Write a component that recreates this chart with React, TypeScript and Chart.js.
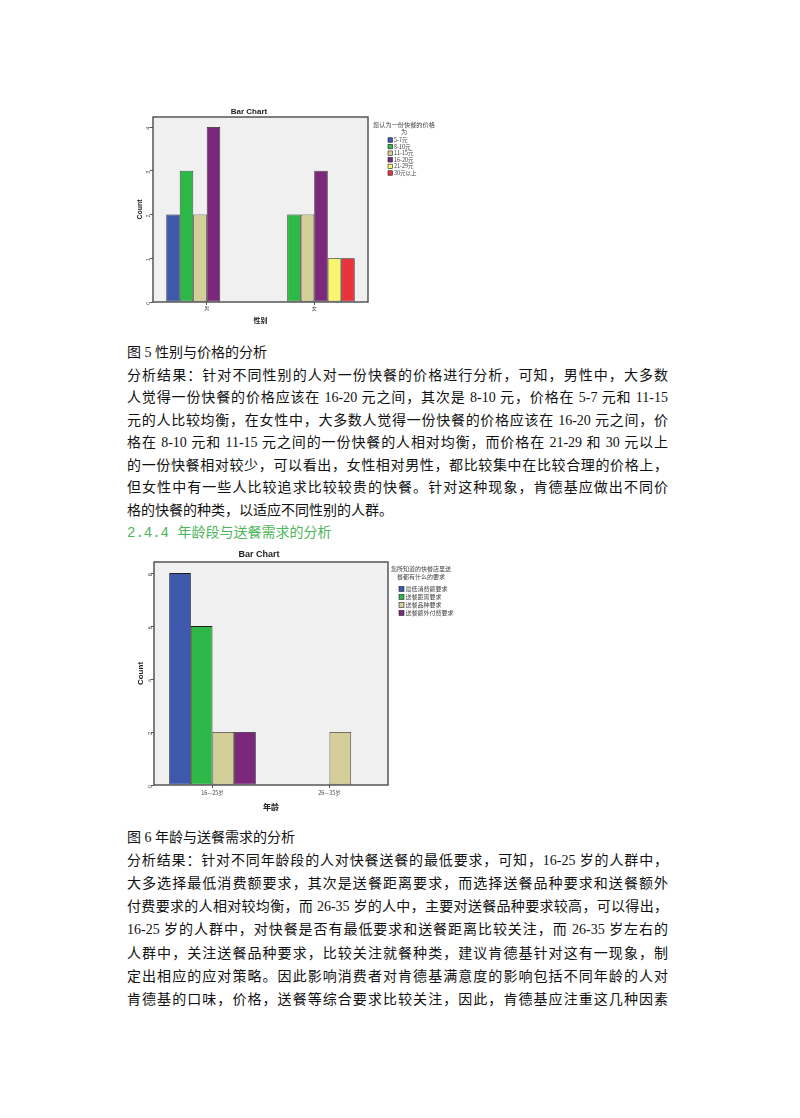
import React, { useEffect, useRef } from "react"
import { Chart, registerables } from "chart.js"

Chart.register(...registerables)

// 图5 性别与价格
const genderLabels = ["男", "女"]
const priceNames = ["5-7元", "8-10元", "11-15元", "16-20元", "21-29元", "30元以上"]
const price57 = [2, 0]
const price810 = [3, 2]
const price1115 = [2, 2]
const price1620 = [4, 3]
const price2129 = [0, 1]
const price30 = [0, 1]
const priceColors = ["#3e58ac", "#2eb848", "#d4cf98", "#7b287c", "#faf56e", "#e8323c"]
const priceLegendTitle = ["您认为一份快餐的价格", "为"]

// 图6 年龄与送餐需求
const ageLabels = ["16—25岁", "26—35岁"]
const needNames = ["最低消费额要求", "送餐距离要求", "送餐品种要求", "送餐额外付费要求"]
const needMinSpend = [8, 0]
const needDistance = [6, 0]
const needVariety = [2, 2]
const needExtraFee = [2, 0]
const needColors = ["#3e58ac", "#2eb848", "#d4cf98", "#7b287c"]
const needLegendTitle = ["您所知道的快餐店里送", "餐都有什么的要求"]

const SANS = '"Liberation Sans", Arial, sans-serif'
const CJK = '"Noto Sans CJK SC", sans-serif'

const spssPlugin = {
  id: "spss",
  beforeDraw(chart: any) {
    const { ctx, chartArea: a } = chart
    ctx.save()
    ctx.fillStyle = "#f0f0f0"
    ctx.fillRect(a.left, a.top, a.right - a.left, a.bottom - a.top)
    ctx.restore()
  },
  afterDraw(chart: any, _args: any, opts: any) {
    const { ctx, chartArea: a } = chart
    ctx.save()
    // 枠
    ctx.strokeStyle = "#4a4a4a"
    ctx.lineWidth = 1.4
    ctx.strokeRect(a.left, a.top, a.right - a.left, a.bottom - a.top)

    // 凡例
    const lg = opts.legend
    if (lg) {
      ctx.textBaseline = "middle"
      ctx.fillStyle = "#444"
      ctx.textAlign = "center"
      ctx.font = `${lg.titleSize}px ${CJK}`
      lg.title.forEach((t: string, i: number) => {
        ctx.fillText(t, lg.titleX, lg.titleY + i * lg.titleStep)
      })
      ctx.textAlign = "left"
      ctx.font = `${lg.itemSize}px ${CJK}`
      chart.data.datasets.forEach((ds: any, i: number) => {
        const y = lg.itemY + i * lg.itemStep
        ctx.fillStyle = ds.backgroundColor
        ctx.fillRect(lg.boxX, y - lg.box / 2, lg.box, lg.box)
        ctx.strokeStyle = "#222"
        ctx.lineWidth = 0.6
        ctx.strokeRect(lg.boxX, y - lg.box / 2, lg.box, lg.box)
        ctx.fillStyle = "#444"
        ctx.fillText(ds.label, lg.boxX + lg.box + 1.5, y)
      })
    }
    ctx.restore()
  },
}

interface PanelProps {
  left: number
  top: number
  width: number
  height: number
  labels: string[]
  names: string[]
  series: number[][]
  colors: string[]
  yMax: number
  step: number
  xTitle: string
  cat: number
  yWidth: number
  xHeight: number
  padRight: number
  titleSize: number
  titlePad: { top: number; bottom: number }
  tickSize: number
  axisTitleSize: number
  xTitlePad: number
  yTitlePad: number
  xTickPad: number
  legend: any
}

const BarPanel: React.FC<PanelProps> = (p) => {
  const canvasRef = useRef<HTMLCanvasElement>(null)
  const chartRef = useRef<Chart | null>(null)

  useEffect(() => {
    if (!canvasRef.current) return
    if (chartRef.current) chartRef.current.destroy()

    chartRef.current = new Chart(canvasRef.current, {
      type: "bar",
      data: {
        labels: p.labels,
        datasets: p.names.map((name, i) => ({
          label: name,
          data: p.series[i],
          backgroundColor: p.colors[i],
          borderColor: "#1e1e1e",
          borderWidth: 0.8,
          borderSkipped: false,
          categoryPercentage: p.cat,
          barPercentage: 1,
        })),
      },
      options: {
        responsive: false,
        animation: false,
        layout: { padding: { left: 0, right: p.padRight, top: 0, bottom: 0 } },
        scales: {
          x: {
            grid: { drawOnChartArea: false, drawTicks: true, tickLength: 3, color: "#555", offset: false },
            border: { display: false },
            ticks: { color: "#444", font: { size: p.tickSize, family: CJK }, padding: p.xTickPad, maxRotation: 0 },
            title: {
              display: true,
              text: p.xTitle,
              color: "#222",
              font: { size: p.axisTitleSize, weight: "bold", family: CJK },
              padding: { top: 0, bottom: p.xTitlePad },
            },
            afterFit: (scale: any) => {
              scale.height = p.xHeight
            },
          },
          y: {
            min: 0,
            max: p.yMax,
            grid: { drawOnChartArea: false, drawTicks: true, tickLength: 3, color: "#555" },
            border: { display: false },
            ticks: {
              stepSize: p.step,
              includeBounds: false,
              color: "#444",
              font: { size: p.tickSize, family: SANS },
              padding: 1,
              minRotation: 90,
              maxRotation: 90,
            },
            title: {
              display: true,
              text: "Count",
              color: "#222",
              font: { size: p.axisTitleSize, weight: "bold", family: SANS },
              padding: { top: p.yTitlePad, bottom: 0 },
            },
            afterFit: (scale: any) => {
              scale.width = p.yWidth
            },
          },
        },
        plugins: {
          legend: { display: false },
          tooltip: { enabled: false },
          title: {
            display: true,
            text: "Bar Chart",
            color: "#222",
            font: { size: p.titleSize, weight: "bold", family: SANS },
            padding: p.titlePad,
          },
          spss: { legend: p.legend },
        } as any,
      },
      plugins: [spssPlugin],
    })

    return () => {
      if (chartRef.current) {
        chartRef.current.destroy()
        chartRef.current = null
      }
    }
  }, [])

  return (
    <div style={{ position: "absolute", left: p.left, top: p.top, width: p.width, height: p.height }}>
      <canvas ref={canvasRef} width={p.width} height={p.height} style={{ width: p.width, height: p.height }} />
    </div>
  )
}

const TEXT_FONT = '"Liberation Serif", "Noto Sans CJK SC", serif'

const Line: React.FC<{ y: number; text: string; full?: boolean; color?: string; mono?: string }> = ({
  y,
  text,
  full,
  color,
  mono,
}) => (
  <div
    style={{
      position: "absolute",
      left: 127,
      top: y - 10,
      width: full ? 541 : 600,
      height: 20,
      lineHeight: "20px",
      fontSize: 14,
      fontFamily: TEXT_FONT,
      color: color || "#111",
      textAlign: full ? "justify" : "left",
      textAlignLast: full ? "justify" : "auto",
    }}
  >
    {mono && <span style={{ fontFamily: '"Liberation Mono", monospace' }}>{mono}</span>}
    {text}
  </div>
)

const para1 = [
  "分析结果：针对不同性别的人对一份快餐的价格进行分析，可知，男性中，大多数",
  "人觉得一份快餐的价格应该在 16-20 元之间，其次是 8-10 元，价格在 5-7 元和 11-15",
  "元的人比较均衡，在女性中，大多数人觉得一份快餐的价格应该在 16-20 元之间，价",
  "格在 8-10 元和 11-15 元之间的一份快餐的人相对均衡，而价格在 21-29 和 30 元以上",
  "的一份快餐相对较少，可以看出，女性相对男性，都比较集中在比较合理的价格上，",
  "但女性中有一些人比较追求比较较贵的快餐。针对这种现象，肯德基应做出不同价",
]
const para1Last = "格的快餐的种类，以适应不同性别的人群。"

const para2 = [
  "分析结果：针对不同年龄段的人对快餐送餐的最低要求，可知，16-25 岁的人群中，",
  "大多选择最低消费额要求，其次是送餐距离要求，而选择送餐品种要求和送餐额外",
  "付费要求的人相对较均衡，而 26-35 岁的人中，主要对送餐品种要求较高，可以得出，",
  "16-25 岁的人群中，对快餐是否有最低要求和送餐距离比较关注，而 26-35 岁左右的",
  "人群中，关注送餐品种要求，比较关注就餐种类，建议肯德基针对这有一现象，制",
  "定出相应的应对策略。因此影响消费者对肯德基满意度的影响包括不同年龄的人对",
  "肯德基的口味，价格，送餐等综合要求比较关注，因此，肯德基应注重这几种因素",
]

export default function App() {
  const s1 = 22.5
  const s2 = 23.1
  return (
    <div style={{ position: "absolute", left: 0, top: 0, width: 800, height: 1118, background: "#fff" }}>
      <BarPanel
        left={130}
        top={100}
        width={312}
        height={232}
        labels={genderLabels}
        names={priceNames}
        series={[price57, price810, price1115, price1620, price2129, price30]}
        colors={priceColors}
        yMax={4.23}
        step={1}
        xTitle="性别"
        cat={0.753}
        yWidth={23}
        xHeight={30}
        padRight={74}
        titleSize={8}
        titlePad={{ top: 7, bottom: 0.4 }}
        tickSize={5}
        axisTitleSize={7}
        xTitlePad={7.5}
        yTitlePad={6}
        xTickPad={0.5}
        legend={{
          title: priceLegendTitle,
          titleSize: 6.2,
          titleX: 274,
          titleY: 25,
          titleStep: 7,
          itemSize: 5.5,
          box: 4.5,
          boxX: 258,
          itemY: 40,
          itemStep: 6.6,
        }}
      />
      <BarPanel
        left={130}
        top={545}
        width={340}
        height={270}
        labels={ageLabels}
        names={needNames}
        series={[needMinSpend, needDistance, needVariety, needExtraFee]}
        colors={needColors}
        yMax={8.42}
        step={2}
        xTitle="年龄"
        cat={0.74}
        yWidth={24}
        xHeight={30}
        padRight={82}
        titleSize={9}
        titlePad={{ top: 4.6, bottom: 1.6 }}
        tickSize={5.5}
        axisTitleSize={8}
        xTitlePad={3.2}
        yTitlePad={6}
        xTickPad={2}
        legend={{
          title: needLegendTitle,
          titleSize: 6,
          titleX: 291,
          titleY: 24,
          titleStep: 8,
          itemSize: 6,
          box: 5,
          boxX: 269,
          itemY: 44,
          itemStep: 8,
        }}
      />

      <Line y={353} text="图 5 性别与价格的分析" />
      {para1.map((t, i) => (
        <Line key={"a" + i} y={353 + s1 * (i + 1)} text={t} full />
      ))}
      <Line y={353 + s1 * 7} text={para1Last} />
      <Line y={353 + s1 * 8} mono="2.4.4 " text="年龄段与送餐需求的分析" color="#4cb65a" />

      <Line y={838} text="图 6 年龄与送餐需求的分析" />
      {para2.map((t, i) => (
        <Line key={"b" + i} y={838 + s2 * (i + 1)} text={t} full />
      ))}
    </div>
  )
}
